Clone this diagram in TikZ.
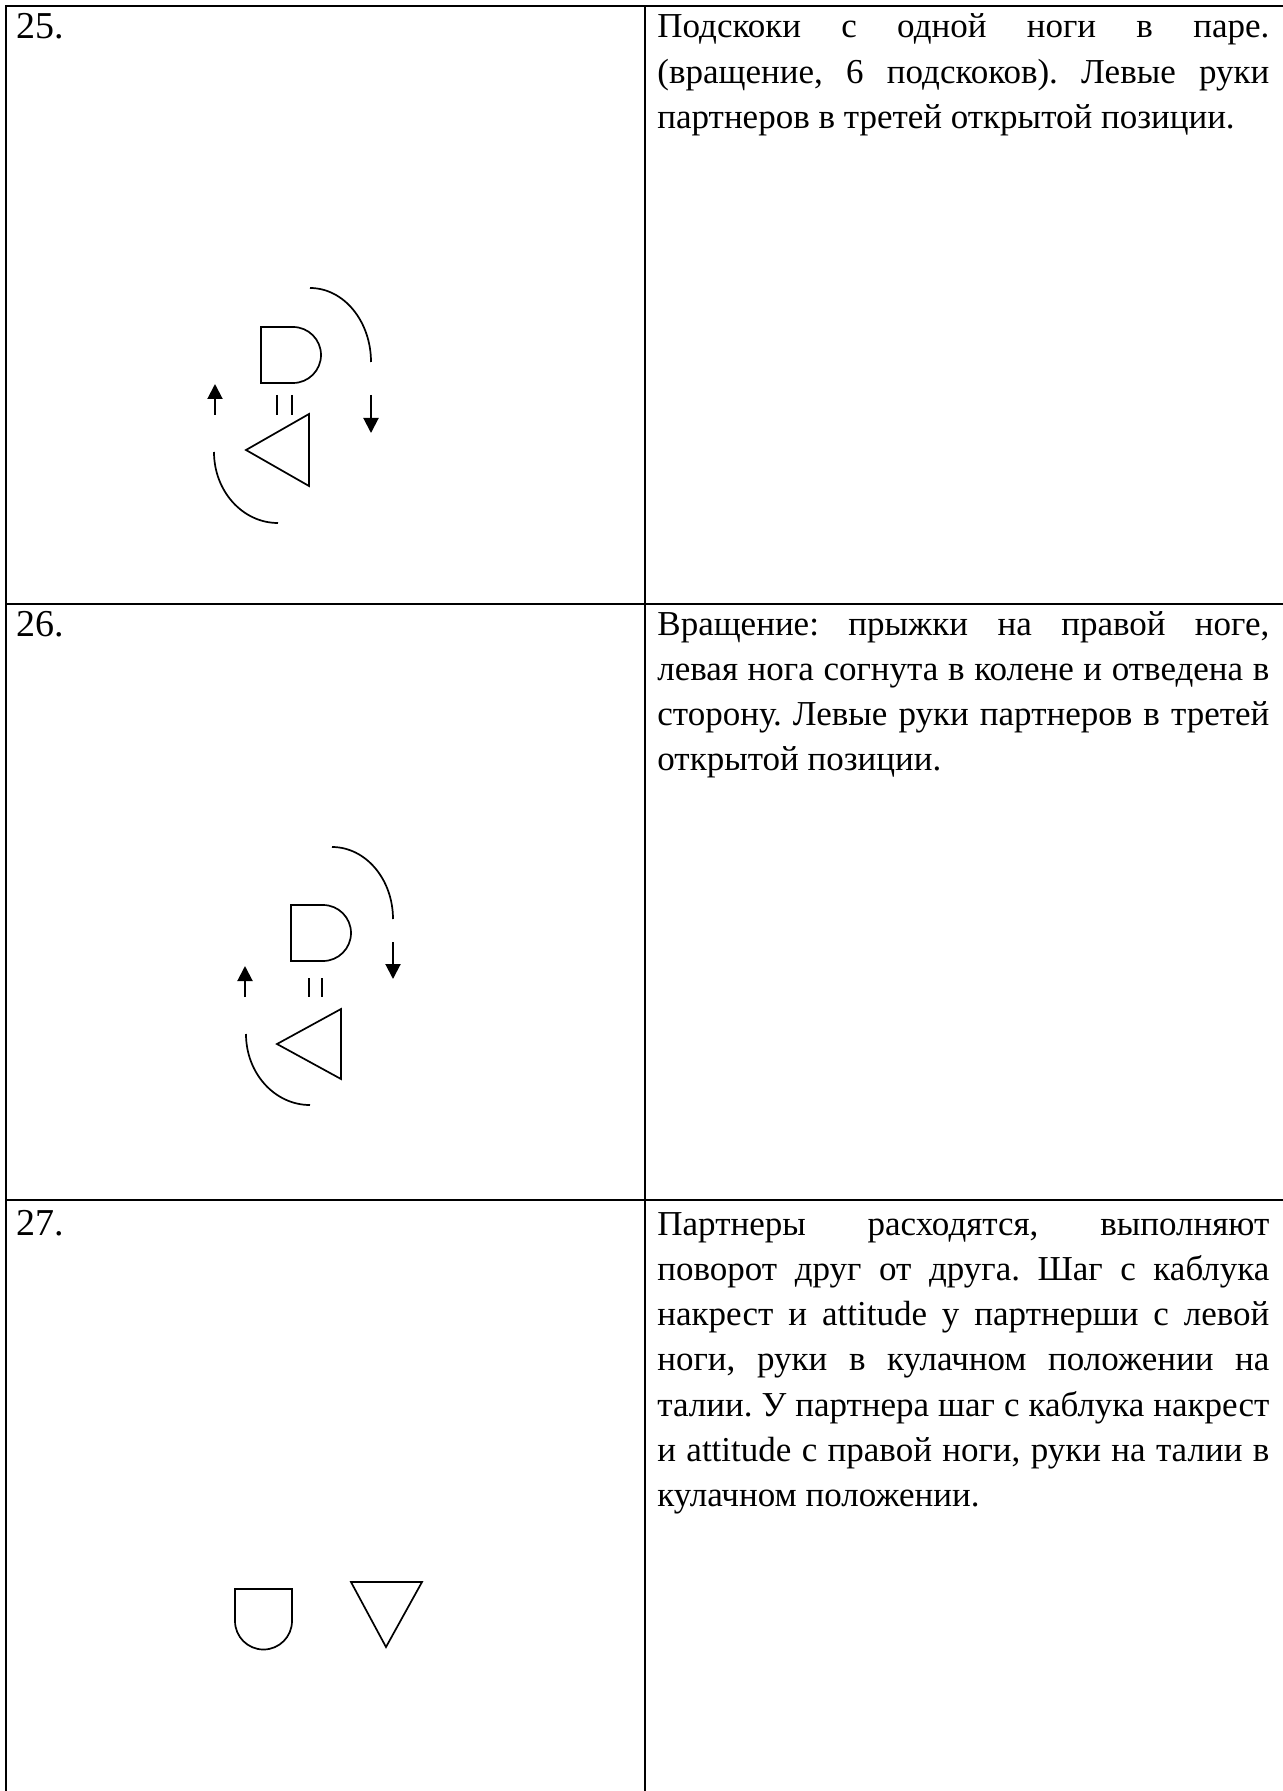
\documentclass[tikz,border=0pt]{standalone}
\usepackage{fontspec}
\setmainfont{Liberation Serif}
\usepackage{tikz}
\usetikzlibrary{arrows.meta}
\newcommand{\rowfont}{\frenchspacing\fontsize{17.5pt}{22.65pt}\selectfont}
\newcommand{\numfont}{\fontsize{19pt}{22.65pt}\selectfont}
\newcommand{\fullline}[1]{\makebox[306pt][s]{#1}}

\begin{document}
\begin{tikzpicture}[x=0.5pt,y=-0.5pt]
            \tikzstyle{grid}=[line width=1pt];
            \tikzstyle{fig}=[line width=0.85pt];
            \tikzstyle{turn}=[line width=1pt,-{Triangle[width=7.5pt,length=7.5pt]}];
            \tikzstyle{txt}=[anchor=base west,inner sep=0pt,font=\rowfont];
            \tikzstyle{num}=[anchor=base west,inner sep=0pt,font=\numfont];
            \useasboundingbox (0,0) rectangle (1283,1791);
            % table
            \draw[grid] (6,1791) -- (6,6) -- (1283,6);
            \draw[grid] (645,6) -- (645,1791);
            \draw[grid] (6,604) -- (1283,604);
            \draw[grid] (6,1200) -- (1283,1200);
            % 25
            \node[num] (n25) at (16,39) {25.};
            \node[txt] (t25a) at (657,38) {\fullline{Подскоки с одной ноги в паре.}};
            \node[txt] (t25b) at (657,83.3) {\fullline{(вращение, 6 подскоков). Левые руки}};
            \node[txt] (t25c) at (657,128.6) {партнеров в третей открытой позиции.};
            \draw[fig] (261,327) -- (293,327) arc[start angle=270,end angle=450,radius=28]
                       -- (261,383) -- cycle;
            \draw[fig] (277,395) -- (277,415) (292,395) -- (292,415);
            \draw[fig] (309,414) -- (309,486) -- (246,450) -- cycle;
            \draw[fig] (310,288) arc[start angle=270,end angle=360,x radius=61,y radius=74];
            \draw[fig] (214,452) arc[start angle=180,end angle=90,x radius=64,y radius=71];
            \coordinate (up25a) at (215,415);
            \coordinate (up25b) at (215,384);
            \coordinate (dn25a) at (371,395);
            \coordinate (dn25b) at (371,433);
            \draw[turn] (up25a) -- (up25b);
            \draw[turn] (dn25a) -- (dn25b);
            % 26
            \node[num] (n26) at (16,636) {26.};
            \node[txt] (t26a) at (657,635) {\fullline{Вращение: прыжки на правой ноге,}};
            \node[txt] (t26b) at (657,680.3) {\fullline{левая нога согнута в колене и отведена в}};
            \node[txt] (t26c) at (657,725.6) {\fullline{сторону. Левые руки партнеров в третей}};
            \node[txt] (t26d) at (657,770.9) {открытой позиции.};
            \draw[fig] (291,905) -- (323,905) arc[start angle=270,end angle=450,radius=28]
                       -- (291,961) -- cycle;
            \draw[fig] (309,978) -- (309,997) (322,978) -- (322,997);
            \draw[fig] (341,1009) -- (341,1079) -- (277,1044) -- cycle;
            \draw[fig] (332,847) arc[start angle=270,end angle=360,x radius=61,y radius=72];
            \draw[fig] (246,1034) arc[start angle=180,end angle=90,x radius=64,y radius=71];
            \coordinate (up26a) at (245,997);
            \coordinate (up26b) at (245,966);
            \coordinate (dn26a) at (393,942);
            \coordinate (dn26b) at (393,979);
            \draw[turn] (up26a) -- (up26b);
            \draw[turn] (dn26a) -- (dn26b);
            % 27
            \node[num] (n27) at (16,1235) {27.};
            \node[txt] (t27a) at (657,1235) {\fullline{Партнеры расходятся, выполняют}};
            \node[txt] (t27b) at (657,1280.3) {\fullline{поворот друг от друга. Шаг с каблука}};
            \node[txt] (t27c) at (657,1325.6) {\fullline{накрест и attitude у партнерши с левой}};
            \node[txt] (t27d) at (657,1370.9) {\fullline{ноги, руки в кулачном положении на}};
            \node[txt] (t27e) at (657,1416.2) {\fullline{талии. У партнера шаг с каблука накрест}};
            \node[txt] (t27f) at (657,1461.5) {\fullline{и attitude с правой ноги, руки на талии в}};
            \node[txt] (t27g) at (657,1506.8) {кулачном положении.};
            \draw[fig] (235,1589) -- (235,1621) arc[start angle=180,end angle=0,radius=28.5]
                       -- (292,1589) -- cycle;
            \draw[fig] (351,1582) -- (422,1582) -- (386,1647) -- cycle;
\end{tikzpicture}
\end{document}
